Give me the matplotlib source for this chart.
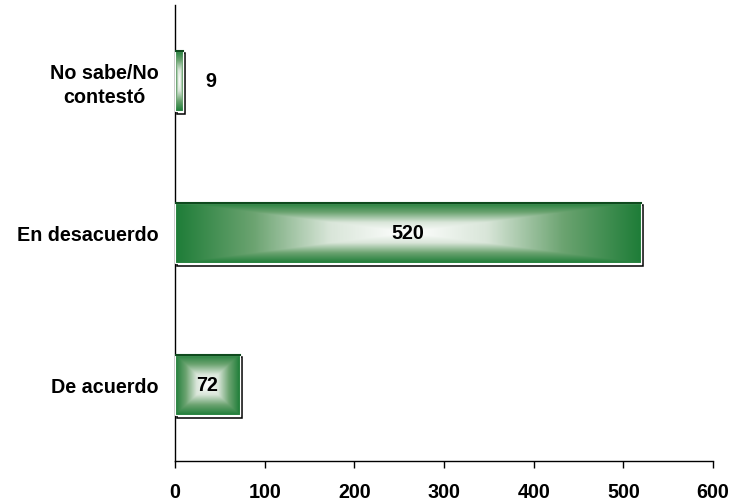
import numpy as np
import matplotlib
matplotlib.use("Agg")
import matplotlib.pyplot as plt
from matplotlib.colors import LinearSegmentedColormap
from matplotlib.patches import Rectangle

categories = ["De acuerdo", "En desacuerdo", "No sabe/No\ncontestó"]
values = [72, 520, 9]
xticks = [0, 100, 200, 300, 400, 500, 600]

plt.rcParams['font.family'] = ['Liberation Sans', 'DejaVu Sans']

fig = plt.figure(figsize=(7.31, 5.03), dpi=100)
ax = fig.add_axes([0.2394, 0.0835, 0.7360, 0.9065])

cmap = LinearSegmentedColormap.from_list("g", [(1, 1, 1), (0.85, 0.90, 0.85), (0.42, 0.64, 0.44), (0.12, 0.49, 0.22)])
bar_h = 0.40
ax.set_xlim(0, 600)
ax.set_ylim(-0.5, 2.5)

n = 200
u = np.linspace(-1, 1, n)
U, V = np.meshgrid(u, u)
grad = np.maximum(np.abs(U), np.abs(V))

fs = 14.2
for i, v in enumerate(values):
    y0 = i - bar_h / 2
    # shadow / frame
    ax.add_patch(Rectangle((2.2, y0 - 0.015), v, bar_h, facecolor='none',
                           edgecolor='black', lw=1.1, zorder=2))
    ax.imshow(grad, cmap=cmap, extent=[0, v, y0, y0 + bar_h], aspect='auto',
              origin='lower', zorder=3, interpolation='bilinear')
    ax.add_patch(Rectangle((0, y0), v, bar_h, facecolor='none',
                           edgecolor='white', lw=0.8, zorder=4))
    ax.plot([0, v], [y0 + bar_h, y0 + bar_h], color='#0f4a1e', lw=1.5, zorder=5)
    if v < 40:
        ax.text(v + 25, i, str(v), ha='left', va='center', fontsize=fs,
                fontweight='bold', zorder=6)
    else:
        ax.text(v / 2, i, str(v), ha='center', va='center', fontsize=fs,
                fontweight='bold', zorder=6)

ax.set_yticks(range(len(categories)))
ax.set_yticklabels(categories, fontsize=fs, fontweight='bold', ha='right',
                   multialignment='center', linespacing=1.35)
ax.tick_params(axis='y', length=0, pad=12)
ax.set_xticks(xticks)
ax.set_xticklabels([str(t) for t in xticks], fontsize=fs, fontweight='bold')
ax.tick_params(axis='x', length=5, width=1, pad=11, direction='out')
for s in ['top', 'right']:
    ax.spines[s].set_visible(False)
for s in ['left', 'bottom']:
    ax.spines[s].set_linewidth(1)
ax.set_facecolor('white')

fig.savefig("out.png", dpi=100)
